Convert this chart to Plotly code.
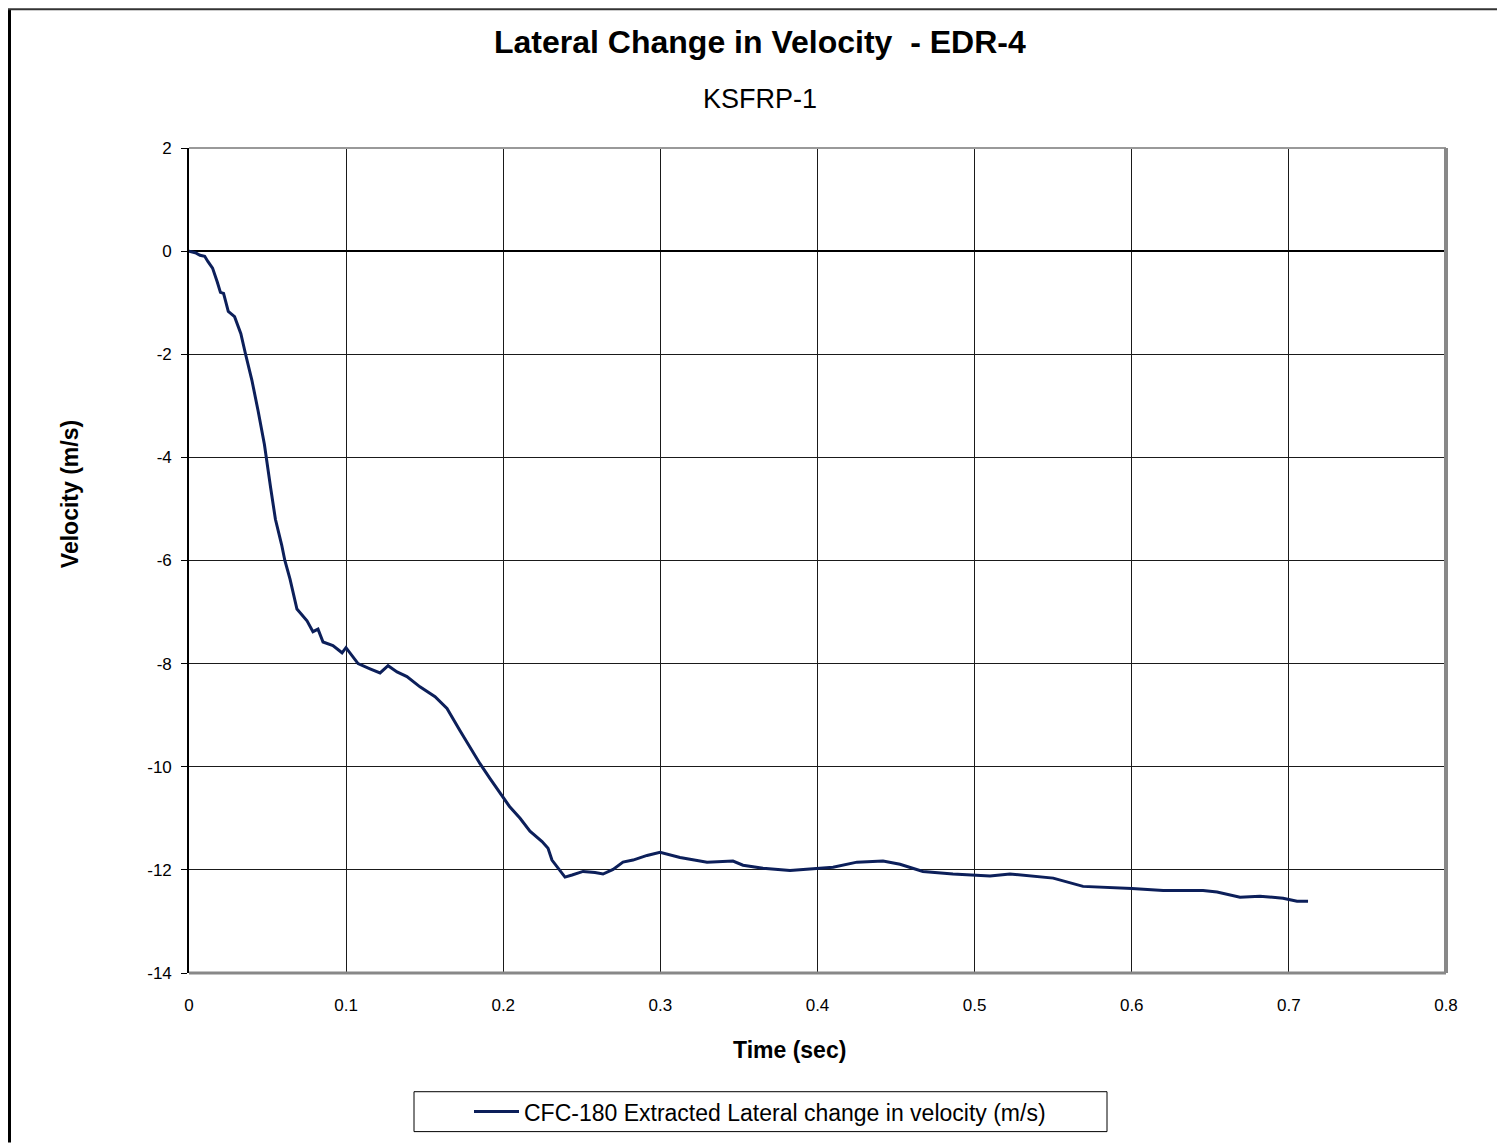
import plotly.graph_objects as go

time_s = [0.0, 0.004, 0.007, 0.010, 0.012, 0.015, 0.018, 0.020, 0.022, 0.023, 0.025,
          0.029, 0.030, 0.033, 0.036, 0.040, 0.044, 0.048, 0.052, 0.055, 0.059, 0.061,
          0.0643, 0.0687, 0.0751, 0.0789, 0.0821, 0.0853, 0.0916, 0.0974, 0.0999, 0.1076,
          0.1152, 0.1216, 0.1267, 0.1324, 0.1387, 0.1470, 0.1566, 0.1642, 0.1725, 0.1852,
          0.1916, 0.198, 0.204, 0.2107, 0.217, 0.2247, 0.2285, 0.231, 0.236, 0.2393,
          0.2438, 0.2508, 0.2584, 0.2635, 0.2699, 0.2762, 0.2826, 0.2915, 0.2998, 0.3125,
          0.3297, 0.3462, 0.3526, 0.3653, 0.3825, 0.3997, 0.4099, 0.4251, 0.4417, 0.4525,
          0.4671, 0.4862, 0.5034, 0.5098, 0.5225, 0.5372, 0.550, 0.569, 0.5862, 0.600,
          0.620, 0.6454, 0.6543, 0.6689, 0.6816, 0.6963, 0.7052, 0.7122]
velocity = [0.0, -0.03, -0.08, -0.10, -0.20, -0.33, -0.60, -0.80, -0.82, -0.94, -1.17,
            -1.27, -1.35, -1.60, -2.00, -2.50, -3.10, -3.75, -4.60, -5.20, -5.70, -6.00,
            -6.36, -6.94, -7.17, -7.38, -7.33, -7.58, -7.65, -7.79, -7.69, -8.00,
            -8.10, -8.18, -8.04, -8.16, -8.25, -8.45, -8.64, -8.87, -9.30, -9.94,
            -10.23, -10.52, -10.77, -11.0, -11.25, -11.45, -11.58, -11.81, -12.0, -12.14,
            -12.10, -12.03, -12.05, -12.08, -11.99, -11.85, -11.81, -11.72, -11.66, -11.76,
            -11.85, -11.83, -11.91, -11.97, -12.01, -11.97, -11.95, -11.85, -11.83, -11.89,
            -12.03, -12.08, -12.10, -12.12, -12.08, -12.12, -12.16, -12.32, -12.34, -12.36,
            -12.40, -12.40, -12.43, -12.53, -12.51, -12.55, -12.61, -12.61]

y_ticks = [2, 0, -2, -4, -6, -8, -10, -12, -14]
y_labels = ["2", "0", "-2", "-4", "-6", "-8", "-10", "-12", "-14"]

# page offset added by the browser around the plot div
OFF = 8
W, H = 1505 - OFF, 1145 - OFF
L, R, T, B = 189 - OFF, 1446 - OFF, 148 - OFF, 975 - OFF
pw, ph = R - L, B - T


def px(x):
    # reference pixel x -> paper coordinate
    return (x - OFF - L) / pw


def py(y):
    return 1 - (y - OFF - T) / ph


FONT = "Liberation Sans, Arial, sans-serif"
NAVY = "#0c1f5a"

fig = go.Figure()
fig.add_trace(go.Scatter(x=time_s, y=velocity, mode="lines",
                         line=dict(color=NAVY, width=3),
                         name="CFC-180 Extracted Lateral change in velocity (m/s)"))

fig.update_layout(
    width=W, height=H,
    margin=dict(l=L, r=W - R, t=T, b=H - B, pad=0),
    paper_bgcolor="white", plot_bgcolor="white",
    font=dict(family=FONT, color="black", size=17),
    showlegend=True,
    legend=dict(orientation="h", x=px(760), xanchor="center", y=py(1114), yanchor="middle",
                borderwidth=0, bgcolor="rgba(0,0,0,0)", font=dict(size=23),
                itemwidth=45),
    xaxis=dict(range=[0, 0.8], dtick=0.1, tick0=0, showgrid=True, gridcolor="#1a1a1a",
               gridwidth=1.4, zeroline=False, showline=False, ticks="",
               ticklabelstandoff=20, tickfont=dict(size=17)),
    yaxis=dict(range=[-14, 2], tickvals=y_ticks, ticktext=y_labels, showgrid=True,
               gridcolor="#1a1a1a", gridwidth=1.4, zeroline=True, zerolinecolor="black",
               zerolinewidth=1.6, showline=True, linecolor="black", linewidth=1.6,
               ticks="outside", ticklen=6, tickcolor="black", ticklabelstandoff=6,
               tickfont=dict(size=17)),
)

# plot-area border: gray on top, right and bottom
fig.add_shape(type="line", xref="x domain", yref="y domain", x0=0, x1=1, y0=1, y1=1,
              line=dict(color="#999", width=2))
fig.add_shape(type="line", xref="x domain", yref="y domain", x0=1, x1=1, y0=0, y1=1,
              line=dict(color="#888", width=4))
fig.add_shape(type="line", xref="x domain", yref="y domain", x0=0, x1=1, y0=0, y1=0,
              line=dict(color="#888", width=3))

# outer frame of the chart sheet (kept just inside the drawable page)
fig.add_shape(type="line", xref="paper", yref="paper", x0=px(OFF + 1.5), x1=px(OFF + 1.5),
              y0=py(1145), y1=py(OFF + 1), line=dict(color="black", width=3))
fig.add_shape(type="line", xref="paper", yref="paper", x0=px(OFF), x1=px(1505),
              y0=py(OFF + 1), y1=py(OFF + 1), line=dict(color="#333", width=2))

# legend frame
fig.add_shape(type="rect", xref="paper", yref="paper", x0=px(414), x1=px(1107),
              y0=py(1134), y1=py(1094), line=dict(color="black", width=1))

texts = [
    ("<b>Lateral Change in Velocity  - EDR-4</b>", 760, 42, 32, 0),
    ("KSFRP-1", 760, 99, 27, 0),
    ("<b>Time (sec)</b>", 789, 1052, 23, 0),
    ("<b>Velocity (m/s)</b>", 70, 495, 23, -90),
]
for txt, tx, ty, size, angle in texts:
    fig.add_annotation(text=txt, xref="paper", yref="paper", x=px(tx), y=py(ty),
                       xanchor="center", yanchor="middle", showarrow=False,
                       textangle=angle, font=dict(size=size))

fig.write_html("out.html")
